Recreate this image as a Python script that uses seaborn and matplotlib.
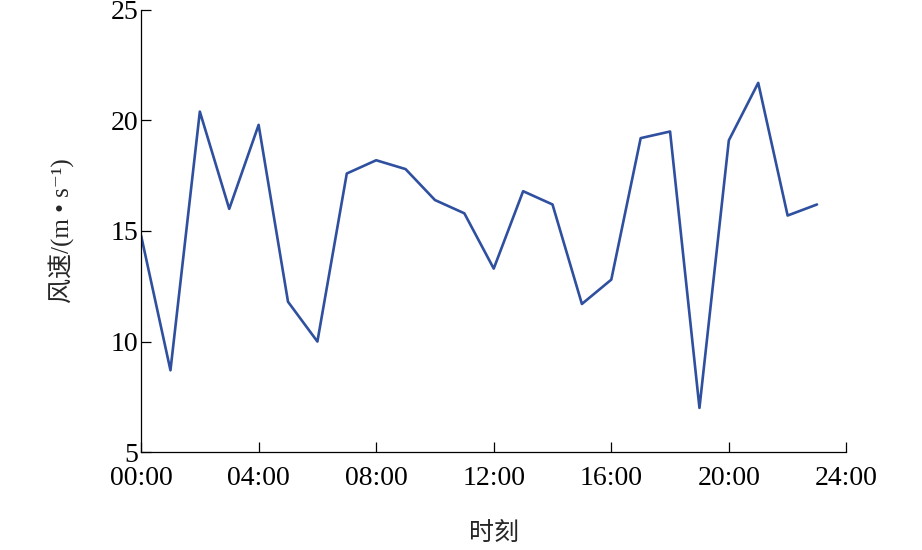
import matplotlib
matplotlib.use('Agg')
import matplotlib.pyplot as plt
import numpy as np
import pandas as pd
import seaborn as sns

# hourly wind speed
hours = list(range(24))
speed = [14.8, 8.7, 20.4, 16.0, 19.8, 11.8, 10.0, 17.6, 18.2, 17.8, 16.4, 15.8,
         13.3, 16.8, 16.2, 11.7, 12.8, 19.2, 19.5, 7.0, 19.1, 21.7, 15.7, 16.2]
tick_hours = [0, 4, 8, 12, 16, 20, 24]
tick_labels = ['00:00', '04:00', '08:00', '12:00', '16:00', '20:00', '24:00']
y_ticks = [5, 10, 15, 20, 25]

sns.set_style('ticks')
plt.rcParams['font.family'] = ['Liberation Serif', 'Noto Sans CJK SC', 'DejaVu Serif']

df = pd.DataFrame({'hour': hours, 'speed': speed})

fig = plt.figure(figsize=(9.22, 5.5), dpi=100)
ax = fig.add_axes([0.153, 0.178, 0.765, 0.804])

sns.lineplot(data=df, x='hour', y='speed', ax=ax, color='#2f4f9f', linewidth=1.9)

ax.set_xlim(0, 24)
ax.set_ylim(5, 25)
ax.set_xticks(tick_hours)
ax.set_xticklabels(tick_labels)
ax.set_yticks(y_ticks)
ax.tick_params(direction='in', length=7, width=0.9, labelsize=20, colors='black')
ax.tick_params(axis='x', pad=10)
ax.tick_params(axis='y', pad=2)

for side in ['top', 'right']:
    ax.spines[side].set_visible(False)
for side in ['left', 'bottom']:
    ax.spines[side].set_linewidth(0.9)
    ax.spines[side].set_color('black')

ax.set_xlabel('时刻', fontsize=18, labelpad=22)
ax.set_ylabel('风速/(m • s⁻¹)', fontsize=18, labelpad=26)

fig.savefig('out.png', dpi=100)
